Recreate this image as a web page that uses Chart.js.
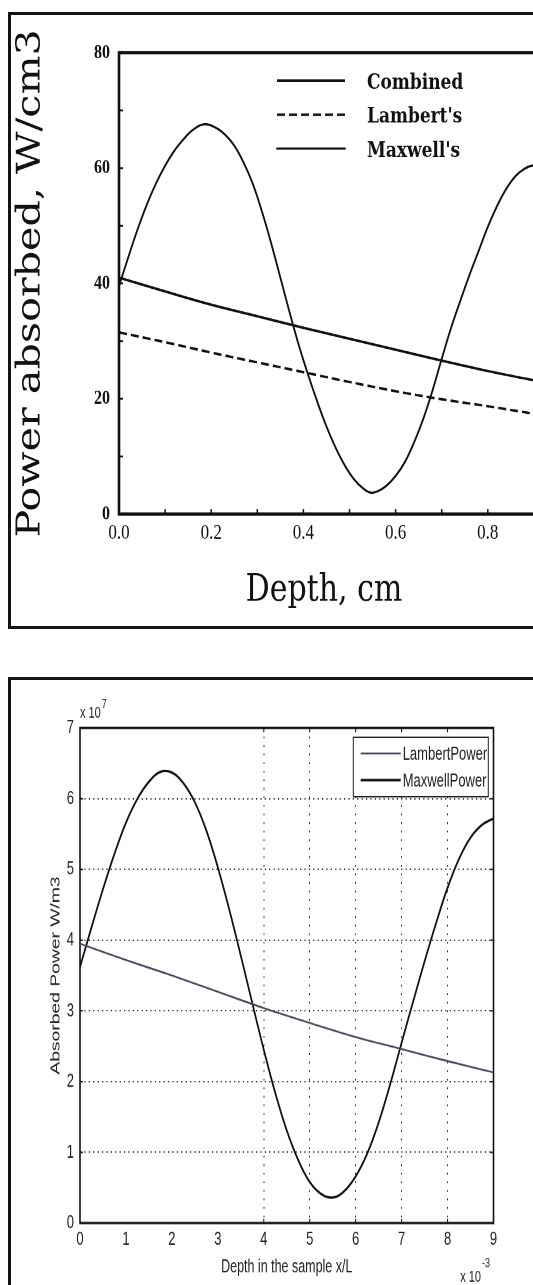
<!DOCTYPE html>
<html lang="en">
<head>
<meta charset="utf-8">
<title>Power absorbed vs depth</title>
<script src="https://cdn.jsdelivr.net/npm/chart.js@4.4.1/dist/chart.umd.min.js"></script>
<style>
  html, body { margin: 0; padding: 0; background: #fff; overflow: hidden; }
  body { width: 533px; height: 1285px; position: relative; }
  .frame { position: absolute; left: 8px; width: 640px; border: 3px solid #141414; overflow: hidden; background: #fff; }
  #frameTop { top: 12px; height: 611px; }
  #frameBottom { top: 677px; height: 700px; }
  .stretch { transform-origin: 0 0; }
  .stretch canvas { display: block; }
  #stretchTop { transform: scaleY(1.25); }     /* both figures are taller than wide */
  #stretchBottom { transform: scaleY(1.45); }
</style>
</head>
<body>
<div class="frame" id="frameTop"><div class="stretch" id="stretchTop"><canvas id="topChart" width="626" height="489"></canvas></div></div>
<div class="frame" id="frameBottom"><div class="stretch" id="stretchBottom"><canvas id="bottomChart" width="522" height="418"></canvas></div></div>
<script>
// Upper plot: power absorbed (W/cm3) against depth (cm)
const depthCm = [0, 0.1, 0.2, 0.3, 0.4, 0.5, 0.6, 0.7, 0.8, 0.9, 0.93];
const combinedPower = [41, 38.6, 36.3, 34.3, 32.3, 30.4, 28.5, 26.6, 24.8, 23.2, 22.8];
const lambertPower = [31.5, 29.8, 28.0, 26.3, 24.6, 22.9, 21.3, 19.9, 18.7, 17.4, 17.1];
const maxwellDepthCm = [0, 0.02, 0.04, 0.06, 0.08, 0.1, 0.12, 0.14, 0.16, 0.185, 0.21, 0.23, 0.25, 0.27, 0.29, 0.31, 0.33, 0.35, 0.37, 0.39,
                        0.41, 0.43, 0.45, 0.47, 0.49, 0.51, 0.53, 0.546, 0.56, 0.58, 0.6, 0.62, 0.64, 0.66, 0.68, 0.7, 0.72, 0.74,
                        0.76, 0.78, 0.8, 0.82, 0.84, 0.86, 0.88, 0.9, 0.92];
const maxwellPower = [39.5, 44.5, 49.3, 53.6, 57.3, 60.4, 63.0, 65.0, 66.6, 67.6, 67.0, 65.8, 63.9, 61.0, 57.3, 52.5, 47, 41, 35, 29.3,
                      24.2, 19.5, 15.2, 11.5, 8.4, 6.0, 4.4, 3.7, 3.9, 4.9, 6.6, 9.0, 12.4, 16.5, 21.4, 26.9, 32.2, 36.9,
                      41.4, 45.6, 49.8, 53.4, 56.4, 58.6, 59.9, 60.5, 60.4];
const topXLabels = [0, 0.2, 0.4, 0.6, 0.8, 1.0];
const topYLabels = [0, 20, 40, 60, 80];

// Lower plot: absorbed power (x 10^7 W/m3) against depth x/L (x 10^-3)
const depthXL = [0, 0.25, 0.5, 0.75, 1, 1.25, 1.5, 1.75, 2, 2.25, 2.5, 2.75, 3, 3.25, 3.5, 3.75, 4, 4.25, 4.5, 4.75,
                 5, 5.25, 5.5, 5.75, 6, 6.25, 6.5, 6.75, 7, 7.25, 7.5, 7.75, 8, 8.25, 8.5, 8.75, 9];
const maxwellPowerW = [3.62, 4.18, 4.72, 5.22, 5.66, 6.0, 6.24, 6.38, 6.37, 6.22, 5.95, 5.55, 5.03, 4.43, 3.78, 3.11, 2.45, 1.84, 1.31, 0.89,
                       0.58, 0.41, 0.36, 0.45, 0.66, 0.98, 1.42, 1.96, 2.55, 3.13, 3.7, 4.24, 4.74, 5.15, 5.45, 5.63, 5.72];
const lambertDepthXL = [0, 1, 2, 3, 4, 5, 6, 7, 8, 9];
const lambertPowerW = [3.95, 3.72, 3.5, 3.27, 3.04, 2.83, 2.63, 2.46, 2.29, 2.13];
const bottomXTicks = [0, 1, 2, 3, 4, 5, 6, 7, 8, 9];
const bottomYTicks = [0, 1, 2, 3, 4, 5, 6, 7];

const serif = "'DejaVu Serif', 'Liberation Serif', serif";
const times = "'Liberation Serif', 'Times New Roman', serif";
const sans = "'Liberation Sans', Arial, sans-serif";

// Pair up x and y arrays into {x, y} points
const pts = (xs, ys) => xs.map((x, i) => ({ x: x, y: ys[i] }));

// Box round the plot area plus short tick marks pointing inwards
const plotFrame = {
    id: 'plotFrame',
    beforeDatasetsDraw(chart, args, o) {
        const { ctx, chartArea: a, scales } = chart;
        const skip = o.skipX || [];
        ctx.save();
        ctx.strokeStyle = o.color;
        ctx.lineWidth = o.width;
        ctx.strokeRect(a.left, a.top, a.right - a.left, a.bottom - a.top);
        ctx.lineWidth = o.tickWidth;
        ctx.beginPath();
        scales.x.ticks.forEach(t => {
            if (skip.includes(t.value)) return;
            const px = scales.x.getPixelForValue(t.value);
            ctx.moveTo(px, a.bottom); ctx.lineTo(px, a.bottom - o.tickLen);
            if (o.allSides) { ctx.moveTo(px, a.top); ctx.lineTo(px, a.top + o.tickLen); }
        });
        scales.y.ticks.forEach(t => {
            const py = scales.y.getPixelForValue(t.value);
            ctx.moveTo(a.left, py); ctx.lineTo(a.left + o.tickLen, py);
            if (o.allSides) { ctx.moveTo(a.right, py); ctx.lineTo(a.right - o.tickLen, py); }
        });
        ctx.stroke();
        ctx.restore();
    }
};

// Legend drawn inside the plot area, samples use each dataset's own stroke
const insetLegend = {
    id: 'insetLegend',
    afterDatasetsDraw(chart, args, o) {
        const { ctx, chartArea: a } = chart;
        const left = o.anchor === 'right' ? a.right - o.x - o.width : a.left + o.x;
        const top = a.top + o.y;
        ctx.save();
        if (o.box) {
            ctx.fillStyle = '#fff';
            ctx.fillRect(left, top, o.width, o.height);
            ctx.strokeStyle = o.box;
            ctx.lineWidth = 1;
            ctx.strokeRect(left, top, o.width, o.height);
        }
        ctx.font = o.font;
        ctx.fillStyle = o.color;
        ctx.textAlign = 'left';
        ctx.textBaseline = 'middle';
        chart.data.datasets.forEach((ds, i) => {
            const y = top + o.firstRow + i * o.rowGap;
            ctx.beginPath();
            ctx.strokeStyle = ds.borderColor;
            ctx.lineWidth = ds.borderWidth;
            ctx.lineCap = i === chart.data.datasets.length - 1 ? o.lastCap || 'butt' : 'butt';
            ctx.setLineDash(ds.borderDash || []);
            ctx.moveTo(left + o.lineStart, y);
            ctx.lineTo(left + o.lineEnd, y);
            ctx.stroke();
            ctx.setLineDash([]);
            ctx.fillText(ds.label, left + o.textX, y + o.textDy);
        });
        ctx.restore();
    }
};

// "x 10^n" multipliers next to the axes of the lower plot
const axisExponents = {
    id: 'axisExponents',
    afterDraw(chart, args, o) {
        const { ctx, chartArea: a } = chart;
        const base = o.size + 'px ' + sans;
        const sup = o.supSize + 'px ' + sans;
        ctx.save();
        ctx.fillStyle = o.color;
        ctx.textAlign = 'left';
        ctx.textBaseline = 'alphabetic';
        ctx.font = base;
        ctx.fillText('x 10', a.left, a.top - 6.9);
        let w = ctx.measureText('x 10').width;
        ctx.font = sup;
        ctx.fillText(o.yExp, a.left + w + 1, a.top - 13.8);
        const supW = ctx.measureText(o.xExp).width;
        ctx.fillText(o.xExp, a.right - 3.5 - supW, a.bottom + 30.3);
        ctx.font = base;
        w = ctx.measureText('x 10').width;
        ctx.fillText('x 10', a.right - 4.5 - supW - w, a.bottom + 40.4);
        ctx.restore();
    }
};

// Upper chart
new Chart(document.getElementById('topChart'), {
    type: 'line',
    data: {
        datasets: [
            { label: 'Combined', data: pts(depthCm, combinedPower), borderColor: '#111', borderWidth: 2 },
            { label: "Lambert's", data: pts(depthCm, lambertPower), borderColor: '#111', borderWidth: 2, borderDash: [8, 4] },
            { label: "Maxwell's", data: pts(maxwellDepthCm, maxwellPower), borderColor: '#111', borderWidth: 1.8 }
        ]
    },
    options: {
        responsive: false,
        animation: false,
        devicePixelRatio: 2,
        elements: { point: { radius: 0 }, line: { tension: 0.4 } },
        layout: { padding: { top: 30.2, bottom: 10.2, left: 0, right: 0 } },
        scales: {
            x: {
                type: 'linear', min: 0, max: 1,
                grid: { display: false, drawTicks: false },
                border: { display: false },
                ticks: {
                    stepSize: 0.1, autoSkip: false, maxRotation: 0, padding: 5, color: '#111',
                    font: { family: times, size: 17 },
                    callback: v => topXLabels.some(t => Math.abs(t - v) < 1e-6) ? v.toFixed(1) : ''
                },
                afterFit: s => { s.height = 43.6; }
            },
            y: {
                min: 0, max: 80,
                grid: { display: false, drawTicks: false },
                border: { display: false },
                ticks: {
                    stepSize: 10, autoSkip: false, padding: 9, color: '#111',
                    font: { family: times, size: 16, weight: 'bold' },
                    callback: v => topYLabels.includes(v) ? String(v) : ''
                },
                title: { display: true, text: 'Power absorbed, W/cm3', color: '#111', font: { family: serif, size: 33 }, padding: 0 },
                afterFit: s => { s.width = 108; }
            },
            // empty right-hand strip so the x title sits where it should
            y2: {
                position: 'right',
                grid: { display: false, drawTicks: false },
                border: { display: false },
                ticks: { display: false },
                afterFit: s => { s.width = 57; }
            }
        },
        plugins: {
            legend: { display: false },
            tooltip: { enabled: false },
            title: { display: true, position: 'bottom', text: 'Depth, cm', color: '#111', font: { family: serif, size: 30, weight: 'normal' }, padding: 0 },
            plotFrame: { color: '#111', width: 2.6, tickWidth: 1.5, tickLen: 4 },
            insetLegend: {
                anchor: 'left', x: 0, y: 0, firstRow: 22.3, rowGap: 27.2,
                lineStart: 158, lineEnd: 226, textX: 248, textDy: 2,
                font: 'bold 17px ' + serif, color: '#111', lastCap: 'round'
            }
        }
    },
    plugins: [plotFrame, insetLegend]
});

// Lower chart
const hiddenGridX = [1, 2, 3];
new Chart(document.getElementById('bottomChart'), {
    type: 'line',
    data: {
        datasets: [
            { label: 'LambertPower', data: pts(lambertDepthXL, lambertPowerW), borderColor: '#46465e', borderWidth: 1.3 },
            { label: 'MaxwellPower', data: pts(depthXL, maxwellPowerW), borderColor: '#111', borderWidth: 1.7 }
        ]
    },
    options: {
        responsive: false,
        animation: false,
        devicePixelRatio: 2,
        elements: { point: { radius: 0 }, line: { tension: 0.4 } },
        layout: { padding: { top: 33.1, right: 39.5, bottom: 0, left: 37 } },
        scales: {
            x: {
                type: 'linear', min: 0, max: 9,
                grid: {
                    drawTicks: false, lineWidth: 1,
                    color: c => hiddenGridX.includes(c.tick && c.tick.value) ? 'rgba(0,0,0,0)' : '#2a2a2a'
                },
                border: { display: false, dash: [1.2, 4.7] },
                ticks: {
                    stepSize: 1, autoSkip: false, maxRotation: 0, padding: 3.4, color: '#222',
                    font: { family: sans, size: 13 },
                    callback: v => bottomXTicks.includes(v) ? String(v) : ''
                },
                title: { display: true, text: 'Depth in the sample x/L', color: '#222', font: { family: sans, size: 12.5 }, padding: { top: 0, bottom: 5.7 } },
                afterFit: s => { s.height = 43.5; }
            },
            y: {
                min: 0, max: 7,
                grid: { drawTicks: false, lineWidth: 1, color: '#2a2a2a' },
                border: { display: false, dash: [1.2, 3.2] },
                ticks: {
                    stepSize: 1, autoSkip: false, padding: 6, color: '#222',
                    font: { family: sans, size: 13 },
                    callback: v => bottomYTicks.includes(v) ? String(v) : ''
                },
                title: { display: true, text: 'Absorbed Power W/m3', color: '#222', font: { family: sans, size: 13.3 }, padding: 0 },
                afterFit: s => { s.width = 32; }
            }
        },
        plugins: {
            legend: { display: false },
            tooltip: { enabled: false },
            plotFrame: { color: '#111', width: 1.6, tickWidth: 1, tickLen: 3, allSides: true, skipX: hiddenGridX },
            insetLegend: {
                anchor: 'right', x: 5.2, y: 6.4, width: 135, height: 41, box: '#222',
                firstRow: 11.1, rowGap: 18.4, lineStart: 7.4, lineEnd: 47.4, textX: 49.4, textDy: 1,
                font: '13px ' + sans, color: '#222'
            },
            axisExponents: { color: '#222', size: 11, supSize: 9, yExp: '7', xExp: '-3' }
        }
    },
    plugins: [plotFrame, insetLegend, axisExponents]
});
</script>
</body>
</html>
